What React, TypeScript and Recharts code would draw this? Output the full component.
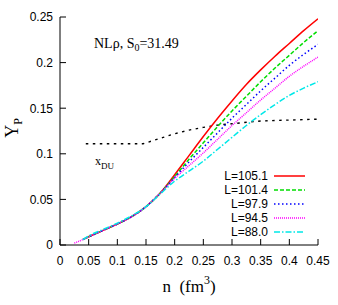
import React from 'react';
import { LineChart, Line, XAxis, YAxis, Legend } from 'recharts';

if (typeof document !== 'undefined') {
  document.body.style.margin = '0';
}

// ---------- data ----------
const nGrid = [0.025, 0.04, 0.05, 0.075, 0.1, 0.125, 0.15, 0.175, 0.2, 0.225, 0.25, 0.275, 0.3, 0.325, 0.35, 0.375, 0.4, 0.425, 0.45];
const yL1051 = [null, 0.006, 0.009, 0.016, 0.023, 0.031, 0.042, 0.057, 0.077, 0.098, 0.119, 0.139, 0.158, 0.176, 0.192, 0.207, 0.221, 0.235, 0.248];
const yL1014 = [null, 0.006, 0.009, 0.016, 0.023, 0.031, 0.042, 0.057, 0.075, 0.094, 0.112, 0.130, 0.147, 0.163, 0.179, 0.194, 0.208, 0.222, 0.235];
const yL979 = [null, 0.006, 0.009, 0.016, 0.023, 0.031, 0.042, 0.057, 0.074, 0.091, 0.107, 0.123, 0.139, 0.154, 0.169, 0.183, 0.197, 0.209, 0.220];
const yL945 = [0.002, 0.006, 0.009, 0.016, 0.023, 0.031, 0.042, 0.057, 0.073, 0.087, 0.101, 0.116, 0.131, 0.145, 0.159, 0.172, 0.185, 0.196, 0.206];
const yL880 = [null, 0.006, 0.010, 0.017, 0.024, 0.032, 0.042, 0.056, 0.070, 0.081, 0.092, 0.105, 0.118, 0.131, 0.143, 0.154, 0.164, 0.172, 0.179];

const duN = [0.045, 0.075, 0.1, 0.125, 0.145, 0.16, 0.18, 0.2, 0.225, 0.25, 0.275, 0.3, 0.35, 0.4, 0.45];
const duY = [0.111, 0.111, 0.111, 0.111, 0.111, 0.114, 0.118, 0.122, 0.126, 0.129, 0.1315, 0.133, 0.136, 0.137, 0.138];

const xTicks = [0, 0.05, 0.1, 0.15, 0.2, 0.25, 0.3, 0.35, 0.4, 0.45];
const yTicks = [0, 0.05, 0.1, 0.15, 0.2, 0.25];

const seriesNames = ['L=105.1', 'L=101.4', 'L=97.9', 'L=94.5', 'L=88.0'];
const seriesKeys = ['a', 'b', 'c', 'd', 'e'];
const seriesValues = [yL1051, yL1014, yL979, yL945, yL880];
const seriesColors = ['#ff0000', '#00dd00', '#0000ff', '#ff00ff', '#00e8e8'];
const seriesDash = ['', '4 2', '1.5 2.5', '1 1', '6 2 1.5 2'];

const rows = nGrid.map((n, i) => {
  const r: any = { n };
  seriesKeys.forEach((k, j) => { r[k] = seriesValues[j][i]; });
  return r;
});
const duRows = duN.map((n, i) => ({ n, du: duY[i] }));

// ---------- layout ----------
const W = 338, H = 305;
const M = { top: 17, right: 20, left: 0, bottom: 0 };
const YW = 60, XH = 60;
const XM = 11, YM = 7, TL = 6;

const sans = "'Liberation Sans', Arial, Helvetica, sans-serif";
const serif = "'Liberation Serif', 'Times New Roman', serif";

const fmt = (v: number) => String(Number(v.toFixed(2)));

const BottomTick = (p: any) => {
  const { x, y, payload } = p;
  const ay = y - XM;
  return (
    <g>
      <line x1={x} y1={ay} x2={x} y2={ay - TL} stroke="#000" strokeWidth={1} />
      <text x={x} y={y} dy="0.71em" textAnchor="middle" fontSize={12} fontFamily={sans} fill="#000">{fmt(payload.value)}</text>
    </g>
  );
};
const LeftTick = (p: any) => {
  const { x, y, payload } = p;
  const ax = x + YM;
  return (
    <g>
      <line x1={ax} y1={y} x2={ax + TL} y2={y} stroke="#000" strokeWidth={1} />
      <text x={x} y={y} dy="0.36em" textAnchor="end" fontSize={12} fontFamily={sans} fill="#000">{fmt(payload.value)}</text>
    </g>
  );
};
const TopTick = (p: any) => {
  const { x, y } = p;
  return <line x1={x} y1={y} x2={x} y2={y + TL} stroke="#000" strokeWidth={1} />;
};
const RightTick = (p: any) => {
  const { x, y } = p;
  return <line x1={x} y1={y} x2={x - TL} y2={y} stroke="#000" strokeWidth={1} />;
};

const YLabel = () => (
  <text transform="rotate(-90 18 128)" x={18} y={128} textAnchor="middle" fontSize={18} fontFamily={serif} fill="#000">
    Y<tspan dy={4} fontSize={12}>P</tspan>
  </text>
);
const XLabel = () => (
  <text x={189} y={292} textAnchor="middle" fontSize={17} fontFamily={serif} fill="#000">
    n{'\u00a0\u00a0'}(fm<tspan dy={-8} fontSize={12}>3</tspan><tspan dy={8}>)</tspan>
  </text>
);

const LegendBox = () => (
  <svg width={100} height={72} style={{ display: 'block' }}>
    {seriesNames.map((name, i) => (
      <g key={name}>
        <text x={60} y={7 + 14 * i} dy="0.36em" textAnchor="end" fontSize={12} fontFamily={sans} fill="#000">{name}</text>
        <line x1={66} x2={97} y1={7 + 14 * i} y2={7 + 14 * i} stroke={seriesColors[i]} strokeWidth={1.5} strokeDasharray={seriesDash[i] || undefined} />
      </g>
    ))}
  </svg>
);

export default function App() {
  return (
    <div style={{ position: 'relative', width: W, height: H }}>
      <LineChart width={W} height={H} data={rows} margin={M}>
        <XAxis dataKey="n" type="number" domain={[0, 0.45]} ticks={xTicks} interval={0} allowDataOverflow
          height={XH} tickSize={0} tickMargin={XM} tickLine={false} tick={BottomTick}
          axisLine={{ stroke: '#000', strokeWidth: 1 }} label={<XLabel />} />
        <XAxis xAxisId="top" orientation="top" dataKey="n" type="number" domain={[0, 0.45]} ticks={xTicks} interval={0}
          height={0} tickSize={0} tickMargin={0} tickLine={false} tick={TopTick}
          axisLine={{ stroke: '#000', strokeWidth: 1 }} />
        <YAxis type="number" domain={[0, 0.25]} ticks={yTicks} interval={0} allowDataOverflow
          width={YW} tickSize={0} tickMargin={YM} tickLine={false} tick={LeftTick}
          axisLine={{ stroke: '#000', strokeWidth: 1 }} label={<YLabel />} />
        <YAxis yAxisId="right" orientation="right" type="number" domain={[0, 0.25]} ticks={yTicks} interval={0}
          width={0} tickSize={0} tickMargin={0} tickLine={false} tick={RightTick}
          axisLine={{ stroke: '#000', strokeWidth: 1 }} />
        <Line data={duRows} dataKey="du" type="linear" stroke="#000" strokeWidth={1.4} strokeDasharray="2.5 4.5"
          dot={false} activeDot={false} isAnimationActive={false} legendType="none" />
        {seriesKeys.map((k, i) => (
          <Line key={k} dataKey={k} name={seriesNames[i]} type="monotone" stroke={seriesColors[i]} strokeWidth={1.5}
            strokeDasharray={seriesDash[i] || undefined} dot={false} activeDot={false} isAnimationActive={false} />
        ))}
        <Legend layout="horizontal" verticalAlign="middle" align="center"
          wrapperStyle={{ left: 208, top: 169, width: 100, height: 72 }} content={() => <LegendBox />} />
      </LineChart>
      <svg width={W} height={H} style={{ position: 'absolute', left: 0, top: 0, pointerEvents: 'none' }}>
        <text x={94} y={48} fontSize={14} fontFamily={serif} fill="#000">
          NLρ, S<tspan dy={3} fontSize={10}>0</tspan><tspan dy={-3}>=31.49</tspan>
        </text>
        <text x={95} y={165} fontSize={12} fontFamily={serif} fill="#000">
          x<tspan dy={4} fontSize={9}>DU</tspan>
        </text>
      </svg>
    </div>
  );
}
